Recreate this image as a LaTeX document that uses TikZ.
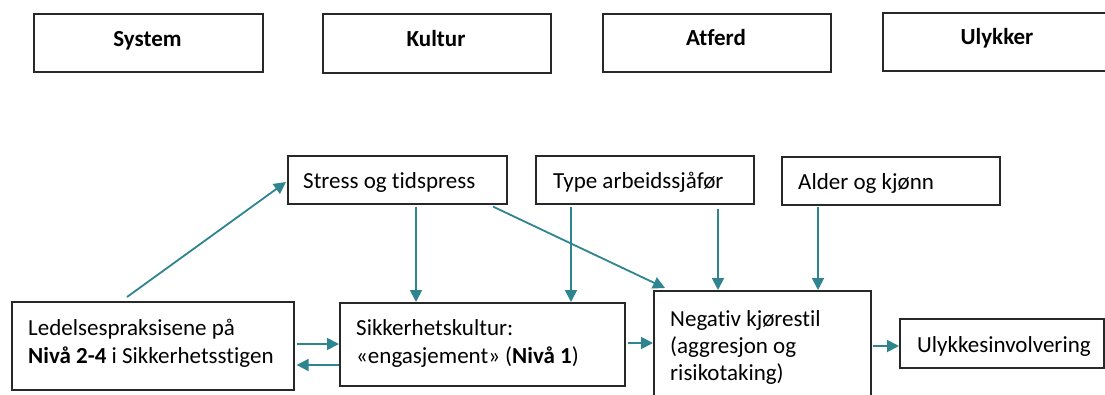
\documentclass[tikz,border=0pt]{standalone}
\usepackage{fontspec}
\setmainfont{Carlito}[Ligatures=CommonOff]
\usetikzlibrary{calc,arrows.meta}
\definecolor{teal1}{RGB}{47,133,143}
\definecolor{edge}{RGB}{40,40,40}
\tikzset{
  box/.style={draw=edge, line width=1.6pt, inner sep=0pt, anchor=north west},
  toplbl/.style={font=\fontsize{23}{27}\selectfont\bfseries, inner sep=0pt, anchor=base},
  lbl/.style={font=\fontsize{23}{27}\selectfont, inner sep=0pt, anchor=base west, align=left},
  arr/.style={draw=teal1, line width=1.8pt, -{Triangle[length=12pt,width=12pt]}},
}
\begin{document}
\begin{tikzpicture}[x=1pt,y=-1pt]
\clip (0,0) rectangle (1105,394);
\fill[white] (0,0) rectangle (1105,394);
% top row
\node[box, minimum width=229pt, minimum height=58pt] (sys) at (33,13) {};
\node[box, minimum width=228pt, minimum height=59pt] (kul) at (322,13) {};
\node[box, minimum width=228pt, minimum height=58pt] (atf) at (602,13) {};
\node[box, minimum width=230pt, minimum height=58pt] (uly) at (882,12) {};
\node[toplbl] (syst) at (147.5,46) {System};
\node[toplbl] (kult) at (436,46) {Kultur};
\node[toplbl] (atft) at (716,45) {Atferd};
\node[toplbl] (ulyt) at (997,44) {Ulykker};
% bottom boxes
\node[box, minimum width=219pt, minimum height=48pt] (stress) at (287,155) {};
\node[box, minimum width=218pt, minimum height=48pt] (type) at (535,155) {};
\node[box, minimum width=218pt, minimum height=48pt] (alder) at (781,156) {};
\node[box, minimum width=282pt, minimum height=88pt] (led) at (11,301) {};
\node[box, minimum width=285pt, minimum height=83pt] (sik) at (339,302) {};
\node[box, minimum width=217pt, minimum height=130pt] (neg) at (653,290) {};
\node[box, minimum width=204pt, minimum height=49pt] (ulyk) at (899,318) {};
% texts
\node[lbl] (stresst) at (303,188) {Stress og tidspress};
\node[lbl] (typet) at (553,188) {Type arbeidssjåfør};
\node[lbl] (aldert) at (798,189) {Alder og kjønn};
\node[lbl] (ledt) at (28,363) {Ledelsespraksisene på\\[1pt]\textbf{Nivå 2-4} i Sikkerhetsstigen};
\node[lbl] (sikt) at (356,363) {Sikkerhetskultur:\\[1pt]«engasjement» (\textbf{Nivå 1})};
\node[lbl] (negt) at (670,380) {Negativ kjørestil\\(aggresjon og\\risikotaking)};
\node[lbl] (ulykt) at (917,352) {Ulykkesinvolvering};
% connectors
\draw[arr] ($(led.north west)+(116,-4)$) -- ($(stress.north west)+(-1,27)$);
\draw[arr] ($(stress.south west)+(129,2)$) -- ($(sik.north west)+(77,0)$);
\draw[arr] ($(stress.south west)+(206,2)$) -- ($(neg.north west)+(12,-2)$);
\draw[arr] ($(type.south west)+(36,2)$) -- ($(sik.north west)+(232,0)$);
\draw[arr] ($(type.south west)+(183,4)$) -- ($(neg.north west)+(65,0)$);
\draw[arr] ($(alder.south west)+(37,1)$) -- ($(neg.north west)+(165,0)$);
\draw[arr] ($(led.north east)+(2,43)$) -- ($(sik.north west)+(0,42)$);
\draw[arr] ($(sik.north west)+(0,63)$) -- ($(led.north east)+(2,64)$);
\draw[arr] ($(sik.north east)+(2,41)$) -- ($(neg.north west)+(0,53)$);
\draw[arr] ($(neg.north east)+(1,56)$) -- ($(ulyk.north west)+(0,28)$);
\end{tikzpicture}
\end{document}
